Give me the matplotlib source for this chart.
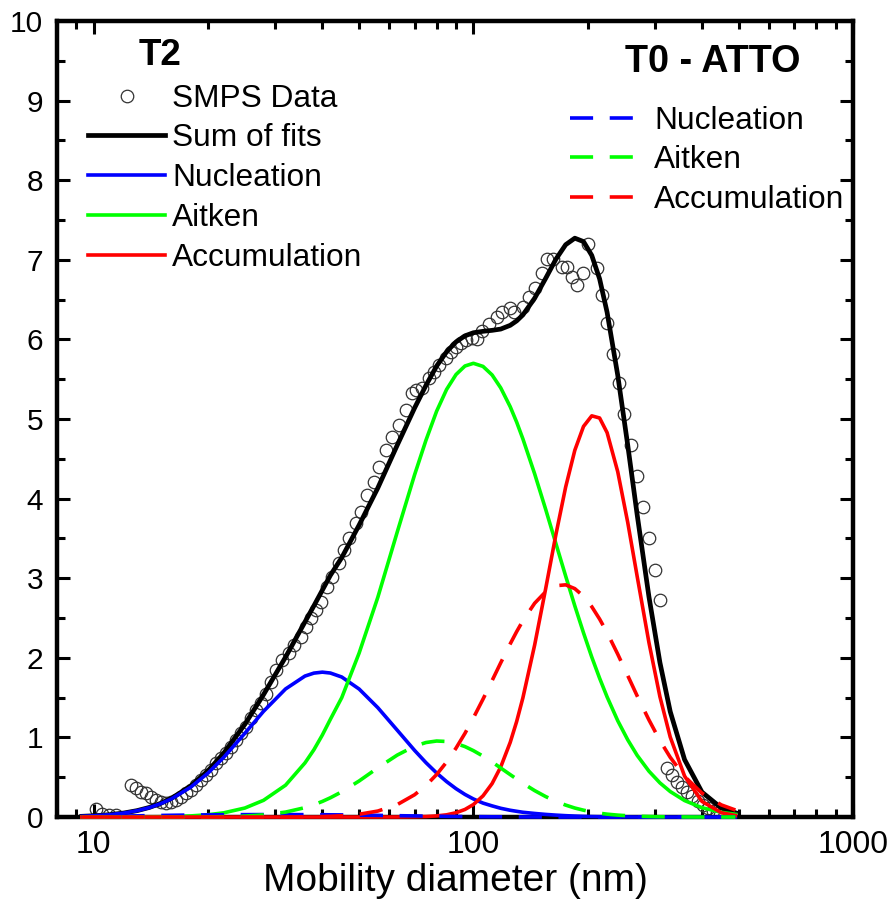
import numpy as np
import matplotlib
matplotlib.use('Agg')
import matplotlib.pyplot as plt
from matplotlib.ticker import MultipleLocator, LogLocator, NullFormatter

plt.rcParams['font.family'] = ['Liberation Sans', 'DejaVu Sans']

# SMPS measured size distribution (mobility diameter in nm)
smps_d = [10.12, 10.50, 10.95, 11.43,
          12.52, 12.91, 13.30, 13.72, 14.14, 14.58, 15.03, 15.49, 15.97, 16.46,
          16.97, 17.49, 18.03, 18.59, 19.16, 19.75, 20.36, 20.99, 21.64, 22.30,
          22.99, 23.70, 24.43, 25.18, 25.96, 26.76, 27.58, 28.43, 29.31, 30.22,
          31.33, 32.69, 33.70, 35.18, 36.26, 37.38, 38.53, 39.72, 41.19, 42.46,
          44.31, 45.68, 47.09, 49.13, 50.65, 52.53, 54.82, 56.49, 58.94, 61.14,
          63.79, 66.56, 69.04, 70.74, 73.38, 76.56, 78.92, 81.36, 84.89, 87.50,
          90.19, 92.97, 95.83, 99.39, 102.5, 105.6, 110.2, 115.7, 119.3, 124.5,
          128.3, 134.7, 140.5, 144.9, 151.2, 155.8, 161.6, 170.7, 176.0, 181.4,
          187.0, 193.9, 199.9, 211.1, 217.6, 224.3, 232.7, 241.3, 248.8, 259.6,
          269.2, 279.2, 289.5, 300.3, 309.5,
          323.0, 333.0, 343.3, 353.9, 364.8, 376.1, 390.0, 402.1, 414.5, 427.2,
          437.7, 445.8]
smps_y = [0.10, 0.04, 0.03, 0.03,
          0.40, 0.36, 0.31, 0.30, 0.25, 0.21, 0.19, 0.17, 0.19, 0.21,
          0.25, 0.30, 0.34, 0.40, 0.46, 0.53, 0.59, 0.68, 0.74, 0.80,
          0.88, 0.97, 1.05, 1.13, 1.24, 1.34, 1.43, 1.55, 1.70, 1.85,
          1.97, 2.06, 2.16, 2.26, 2.39, 2.50, 2.60, 2.70, 2.89, 3.02,
          3.19, 3.35, 3.50, 3.69, 3.83, 4.05, 4.21, 4.40, 4.61, 4.77,
          4.92, 5.11, 5.33, 5.36, 5.39, 5.51, 5.59, 5.68, 5.77, 5.84,
          5.90, 5.95, 5.99, 6.02, 6.00, 6.10, 6.20, 6.28, 6.35, 6.39,
          6.35, 6.41, 6.53, 6.65, 6.83, 7.01, 7.01, 6.91, 6.91, 6.78,
          6.68, 6.83, 7.20, 6.90, 6.56, 6.21, 5.82, 5.45, 5.06, 4.67,
          4.28, 3.89, 3.50, 3.10, 2.73,
          0.62, 0.53, 0.44, 0.38, 0.31, 0.27, 0.20, 0.15, 0.11, 0.08,
          0.05, 0.03]

# lognormal mode fits, evaluated on a common diameter grid (nm)
fit_d = [9.3, 10, 11, 12, 13, 14, 15, 16,
         18, 20, 22, 25, 28, 32, 36, 38,
         40, 42, 45, 50, 56, 63, 70, 75,
         80, 85, 90, 95, 100, 106, 112, 118,
         125, 130, 135, 145, 155, 165, 175, 185,
         195, 205, 215, 225, 240, 255, 270, 290,
         310, 330, 360, 400, 450, 490]

# T2 modes
t2_nuc = [0.009, 0.016, 0.029, 0.050, 0.079, 0.118, 0.168, 0.227,
          0.375, 0.553, 0.750, 1.052, 1.328, 1.609, 1.771, 1.808,
          1.820, 1.809, 1.759, 1.608, 1.374, 1.091, 0.837, 0.683,
          0.553, 0.445, 0.356, 0.284, 0.227, 0.175, 0.140, 0.110,
          0.085, 0.072, 0.060, 0.045, 0.033, 0.024, 0.017, 0.012,
          0.008, 0.006, 0.004, 0.003, 0.002, 0.001, 0.0, 0.0,
          0.0, 0.0, 0.0, 0.0, 0.0, 0.0]
t2_ait = [0.0, 0.0, 0.0001, 0.0006, 0.0012, 0.0022, 0.0037, 0.006,
          0.014, 0.029, 0.053, 0.113, 0.21, 0.40, 0.68, 0.845,
          1.03, 1.228, 1.50, 2.06, 2.76, 3.58, 4.30, 4.734,
          5.098, 5.372, 5.559, 5.666, 5.70, 5.661, 5.554, 5.392,
          5.155, 4.961, 4.751, 4.311, 3.866, 3.433, 3.027, 2.652,
          2.314, 2.010, 1.744, 1.509, 1.210, 0.970, 0.775, 0.576,
          0.429, 0.320, 0.207, 0.117, 0.059, 0.035]
t2_acc = [0.0, 0.0, 0.0, 0.0, 0.0, 0.0, 0.0, 0.0,
          0.0, 0.0, 0.0, 0.0, 0.0, 0.0, 0.0, 0.0,
          0.0, 0.0, 0.0, 0.0, 0.0, 0.0005, 0.0024, 0.006,
          0.014, 0.028, 0.054, 0.095, 0.157, 0.266, 0.420, 0.628,
          0.937, 1.200, 1.497, 2.162, 2.868, 3.552, 4.146, 4.608,
          4.907, 5.040, 5.013, 4.829, 4.338, 3.701, 3.024, 2.192,
          1.511, 1.004, 0.514, 0.196, 0.054, 0.019]

# T0 - ATTO modes
t0_nuc = [0.004, 0.006, 0.009, 0.012, 0.015, 0.018, 0.020, 0.022,
          0.025, 0.027, 0.029, 0.030, 0.031, 0.031, 0.030, 0.030,
          0.029, 0.028, 0.027, 0.024, 0.021, 0.017, 0.014, 0.012,
          0.010, 0.008, 0.007, 0.006, 0.005, 0.004, 0.003, 0.003,
          0.002, 0.002, 0.001, 0.001, 0.0, 0.0, 0.0, 0.0,
          0.0, 0.0, 0.0, 0.0, 0.0, 0.0, 0.0, 0.0,
          0.0, 0.0, 0.0, 0.0, 0.0, 0.0]
t0_ait = [0.0, 0.0, 0.0, 0.0, 0.0, 0.0001, 0.0001, 0.0002,
          0.0007, 0.0019, 0.0044, 0.012, 0.027, 0.062, 0.118, 0.155,
          0.196, 0.242, 0.317, 0.453, 0.618, 0.778, 0.890, 0.936,
          0.955, 0.949, 0.924, 0.885, 0.834, 0.765, 0.692, 0.616,
          0.533, 0.477, 0.424, 0.332, 0.257, 0.197, 0.150, 0.113,
          0.086, 0.064, 0.048, 0.036, 0.024, 0.016, 0.010, 0.006,
          0.0035, 0.002, 0.001, 0.0, 0.0, 0.0]
t0_acc = [0.0, 0.0, 0.0, 0.0, 0.0, 0.0, 0.0, 0.0,
          0.0, 0.0, 0.0, 0.0, 0.0, 0.001, 0.002, 0.004,
          0.006, 0.009, 0.016, 0.035, 0.075, 0.156, 0.280, 0.396,
          0.534, 0.691, 0.866, 1.051, 1.246, 1.481, 1.714, 1.937,
          2.175, 2.329, 2.466, 2.686, 2.830, 2.906, 2.917, 2.869,
          2.774, 2.643, 2.487, 2.317, 2.046, 1.777, 1.522, 1.220,
          0.961, 0.750, 0.510, 0.300, 0.152, 0.088]

sum_fit = np.array(t2_nuc) + np.array(t2_ait) + np.array(t2_acc)

BLUE, GREEN, RED = '#0000ff', '#00ff00', '#ff0000'
DASH = (0, (6.4, 4.6))

fig = plt.figure(figsize=(8.92, 9.02), dpi=100)
ax = fig.add_axes([0.0639, 0.0942, 0.8924, 0.8825])

h_smps, = ax.plot(smps_d, smps_y, 'o', ms=9, mfc='none', mec='#333333', mew=0.9,
                  label='SMPS Data', zorder=2)
h_sum, = ax.plot(fit_d, sum_fit, color='black', lw=3.4, label='Sum of fits',
                 zorder=3, clip_on=False)
h_nuc, = ax.plot(fit_d, t2_nuc, color=BLUE, lw=2.6, label='Nucleation', zorder=3, clip_on=False)
h_ait, = ax.plot(fit_d, t2_ait, color=GREEN, lw=2.6, label='Aitken', zorder=3, clip_on=False)
h_acc, = ax.plot(fit_d, t2_acc, color=RED, lw=2.6, label='Accumulation', zorder=3, clip_on=False)

d_nuc, = ax.plot(fit_d, t0_nuc, color=BLUE, lw=2.6, ls=DASH, label='Nucleation', zorder=3, clip_on=False)
d_ait, = ax.plot(fit_d, t0_ait, color=GREEN, lw=2.6, ls=DASH, label='Aitken', zorder=3, clip_on=False)
d_acc, = ax.plot(fit_d, t0_acc, color=RED, lw=2.6, ls=DASH, label='Accumulation', zorder=3, clip_on=False)

ax.set_xscale('log')
ax.set_xlim(8, 1000)
ax.set_ylim(0, 10)

ax.set_xticks([10, 100, 1000], ['10', '100', '1000'])
ax.xaxis.set_minor_locator(LogLocator(base=10, subs=np.arange(2, 10)))
ax.xaxis.set_minor_formatter(NullFormatter())
ax.yaxis.set_major_locator(MultipleLocator(1))
ax.yaxis.set_minor_locator(MultipleLocator(0.5))

for sp in ax.spines.values():
    sp.set_linewidth(3.2)
ax.tick_params(which='both', direction='in', top=True, right=True, width=2.2)
ax.tick_params(which='major', length=9.5)
ax.tick_params(which='minor', length=5.5)
ax.tick_params(axis='y', which='major', labelsize=21.5, pad=10)
ax.tick_params(axis='x', which='major', labelsize=23, pad=9.5)

ax.set_xlabel('Mobility diameter (nm)', fontsize=28, labelpad=2)

leg1 = ax.legend(handles=[h_smps, h_sum, h_nuc, h_ait, h_acc], loc='upper left',
                 bbox_to_anchor=(0.039, 0.9213), frameon=False, fontsize=22.8,
                 handlelength=2.44, handletextpad=0.22, labelspacing=0.31,
                 borderpad=0, borderaxespad=0, numpoints=1)
ax.add_artist(leg1)
ax.legend(handles=[d_nuc, d_ait, d_acc], loc='upper left',
          bbox_to_anchor=(0.6445, 0.8937), frameon=False, fontsize=22.8,
          handlelength=2.0, handletextpad=0.66, labelspacing=0.31,
          borderpad=0, borderaxespad=0)

ax.text(0.102, 0.9447, 'T2', transform=ax.transAxes, fontsize=26.5,
        fontweight='bold', va='baseline', ha='left')
ax.text(0.7136, 0.936, 'T0 - ATTO', transform=ax.transAxes, fontsize=27.2,
        fontweight='bold', va='baseline', ha='left')

fig.savefig('out.png', dpi=100)
